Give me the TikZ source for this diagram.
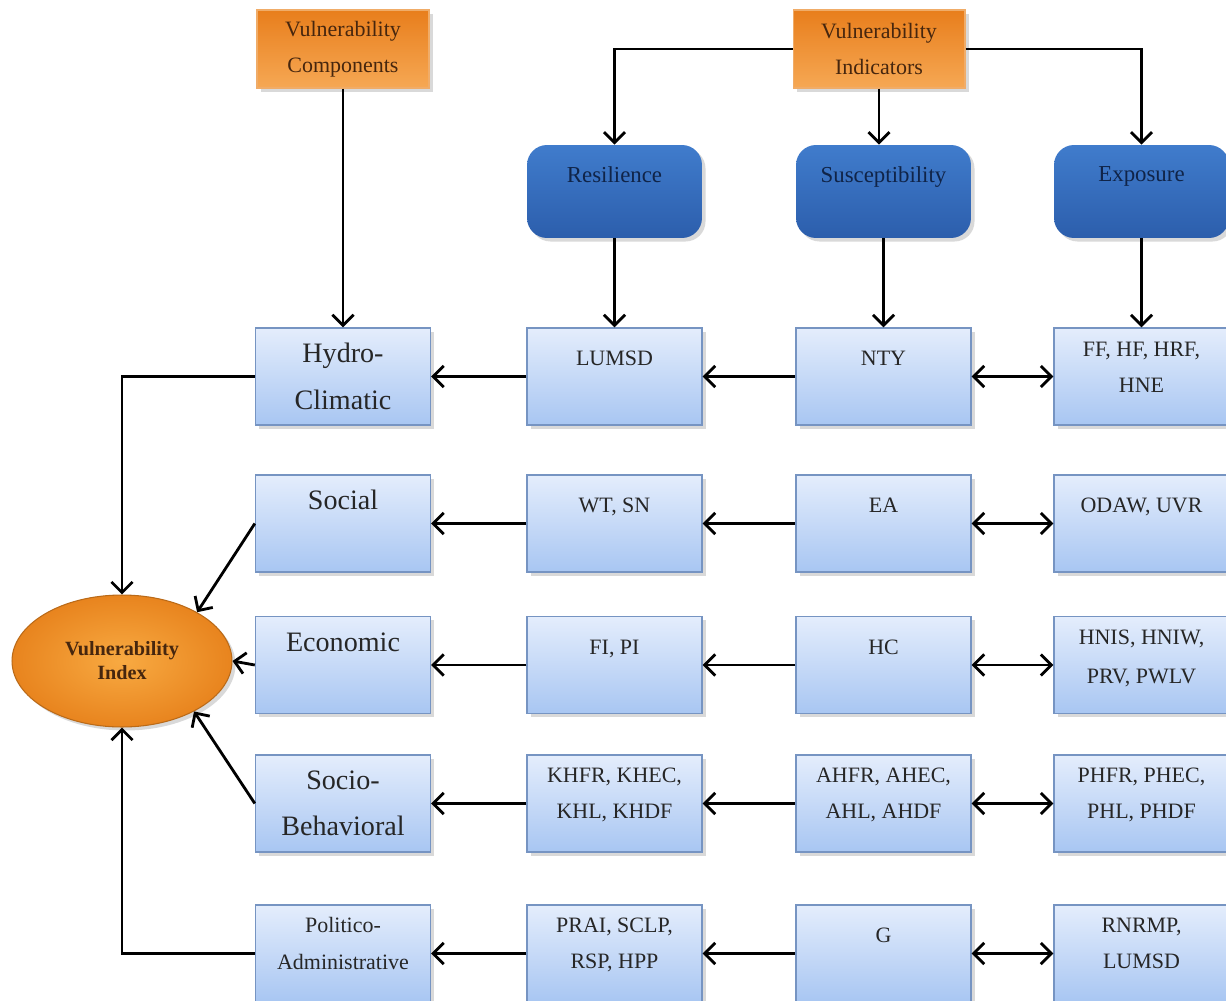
\documentclass[tikz,border=0pt]{standalone}
\usepackage{fontspec}
\setmainfont{Liberation Serif}
\usetikzlibrary{arrows.meta,shadows,shapes.geometric}

\definecolor{headtop}{RGB}{232,126,28}
\definecolor{headbot}{RGB}{246,168,84}
\definecolor{headline}{RGB}{240,172,104}
\definecolor{headtext}{RGB}{70,38,14}
\definecolor{grouptop}{RGB}{64,124,204}
\definecolor{groupbot}{RGB}{44,94,172}
\definecolor{grouptext}{RGB}{16,36,72}
\definecolor{itemtop}{RGB}{228,237,252}
\definecolor{itembot}{RGB}{168,198,242}
\definecolor{itemline}{RGB}{118,148,194}
\definecolor{indexin}{RGB}{248,170,66}
\definecolor{indexout}{RGB}{232,132,30}

\begin{document}
\begin{tikzpicture}[x=0.02cm,y=-0.02cm,
shade/.style={drop shadow={opacity=.3,shadow xshift=2pt,shadow yshift=-2pt}},
headbox/.style={shade,draw=headline,line width=0.6pt,top color=headtop,bottom color=headbot,
  minimum width=3.44cm,minimum height=1.56cm,align=center,text=headtext,
  font=\fontsize{12.5}{20.5}\selectfont},
groupbox/.style={shade,rounded corners=0.4cm,top color=grouptop,bottom color=groupbot,
  minimum width=3.5cm,minimum height=1.86cm,align=center,text=grouptext,
  font=\fontsize{13}{19.5}\selectfont},
compbox/.style={shade,draw=itemline,line width=0.8pt,top color=itemtop,bottom color=itembot,
  minimum width=3.5cm,minimum height=1.94cm,align=center,text=black!85,
  font=\fontsize{16}{26.5}\selectfont},
itembox/.style={compbox,font=\fontsize{12.5}{20.5}\selectfont},
indexnode/.style={ellipse,shade,draw=indexout!80!black,line width=0.6pt,inner sep=0pt,
  inner color=indexin,outer color=indexout,minimum width=4.4cm,minimum height=2.64cm,
  align=center,text=headtext,font=\bfseries\fontsize{11.5}{13.6}\selectfont},
link/.style={line width=1.6pt,-{Straight Barb[length=6pt,width=12pt]}},
twolink/.style={line width=1.6pt,{Straight Barb[length=6pt,width=12pt]}-{Straight Barb[length=6pt,width=12pt]}}]

\useasboundingbox (0,0) rectangle (1226,1000);

\node[headbox] (comp) at (343,49) {Vulnerability\\Components};
\node[headbox] (ind) at (879,49) {Vulnerability\\Indicators};

\node[groupbox] (res) at (614.5,191.5) {Resilience\\\mbox{}};
\node[groupbox] (sus) at (883.5,191.5) {Susceptibility\\\mbox{}};
\node[groupbox] (exp) at (1141.5,191.5) {Exposure\\\mbox{}};

\node[compbox] (hydro) at (343,376.5) {Hydro-\\Climatic};
\node[compbox] (social) at (343,523.5) {Social\\\mbox{}};
\node[compbox] (econ) at (343,665) {Economic\\\mbox{}};
\node[compbox] (socbeh) at (343,803.5) {Socio-\\Behavioral};
\node[compbox,font=\fontsize{12.5}{21}\selectfont] (polad) at (343,953.5) {Politico-\\Administrative\\[-9.5pt]\mbox{}};

\node[itembox] (r1) at (614.5,376.5) {LUMSD\\\mbox{}};
\node[itembox] (r2) at (614.5,523.5) {WT, SN\\\mbox{}};
\node[itembox] (r3) at (614.5,665) {FI, PI\\\mbox{}};
\node[itembox] (r4) at (614.5,803.5) {KHFR, KHEC,\\KHL, KHDF\\[-9pt]\mbox{}};
\node[itembox] (r5) at (614.5,953.5) {PRAI, SCLP,\\RSP, HPP\\[-9pt]\mbox{}};

\node[itembox] (s1) at (883.5,376.5) {NTY\\\mbox{}};
\node[itembox] (s2) at (883.5,523.5) {EA\\\mbox{}};
\node[itembox] (s3) at (883.5,665) {HC\\\mbox{}};
\node[itembox] (s4) at (883.5,803.5) {AHFR, AHEC,\\AHL, AHDF\\[-9pt]\mbox{}};
\node[itembox] (s5) at (883.5,953.5) {G\\\mbox{}};

\node[itembox] (e1) at (1141.5,376.5) {FF, HF, HRF,\\HNE\\[-9.5pt]\mbox{}};
\node[itembox] (e2) at (1141.5,523.5) {ODAW, UVR\\\mbox{}};
\node[itembox,font=\fontsize{12.5}{22.5}\selectfont] (e3) at (1141.5,665) {HNIS, HNIW,\\PRV, PWLV\\[-13pt]\mbox{}};
\node[itembox] (e4) at (1141.5,803.5) {PHFR, PHEC,\\PHL, PHDF\\[-9pt]\mbox{}};
\node[itembox] (e5) at (1141.5,953.5) {RNRMP,\\LUMSD\\[-9pt]\mbox{}};

\node[indexnode] (vi) at (122,661) {Vulnerability\\Index};

\draw[link] (comp.south) -- (hydro.north);
\draw[link] (ind.west) -| (res.north);
\draw[link] (ind.east) -| (exp.north);
\draw[link] (ind.south) -- (ind.south |- sus.north);
\draw[link] (res.south) -- (r1.north);
\draw[link] (sus.south) -- (s1.north);
\draw[link] (exp.south) -- (e1.north);

\foreach \n/\c in {1/hydro,2/social,3/econ,4/socbeh,5/polad}{
  \draw[link] (s\n.west) -- (r\n.east);
  \draw[link] (r\n.west) -- (\c.east);
  \draw[twolink] (s\n.east) -- (e\n.west);
}

\draw[link] (hydro.west) -| (vi.north);
\draw[link] (social.west) -- (vi.33);
\draw[link] (econ.west) -- (vi.east);
\draw[link] (socbeh.west) -- (vi.-35);
\draw[link] (polad.west) -| (vi.south);

\end{tikzpicture}
\end{document}
